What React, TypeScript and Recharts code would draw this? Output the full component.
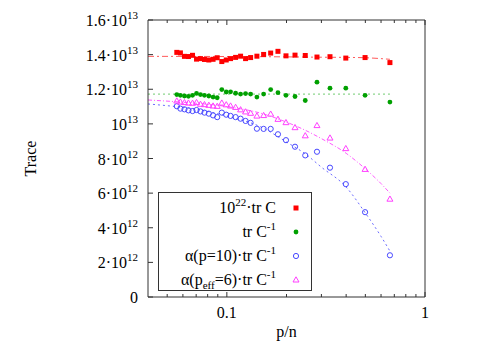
import React from "react";
import { ComposedChart, Scatter, Line, XAxis, YAxis, Legend } from "recharts";

// p/n of every measured point (same for all four series)
const pn = [
  0.0559, 0.0583, 0.0611, 0.064, 0.0671, 0.0703, 0.0736, 0.0771, 0.0811, 0.0852,
  0.0894, 0.0943, 0.0993, 0.1044, 0.1107, 0.1173, 0.1243, 0.1318, 0.1418, 0.1533,
  0.1664, 0.1811, 0.1988, 0.2208, 0.2487, 0.285, 0.3315, 0.3984, 0.4984, 0.6653,
];

// traces, in units of 10^12
const trC22 = [
  14.13, 14.1, 13.9, 13.89, 13.96, 13.74, 13.77, 13.72, 13.69, 13.73,
  13.82, 13.6, 13.69, 13.77, 13.84, 13.91, 13.77, 13.83, 13.91, 14.01,
  14.09, 14.19, 13.93, 13.97, 13.95, 13.86, 13.88, 13.8, 13.83, 13.54,
];
const trCinv = [
  11.69, 11.65, 11.61, 11.59, 11.65, 11.76, 11.69, 11.65, 11.61, 11.55,
  11.51, 11.98, 11.84, 11.85, 11.77, 11.72, 11.75, 11.72, 11.55, 11.72,
  11.98, 11.8, 11.65, 11.58, 11.35, 12.41, 12.06, 12.06, 11.65, 11.26,
];
const alphaP10 = [
  11.02, 10.88, 10.84, 10.78, 10.74, 10.8, 10.72, 10.65, 10.59, 10.49,
  10.39, 10.65, 10.53, 10.46, 10.39, 10.3, 10.17, 10.06, 9.72, 9.71,
  9.71, 9.4, 9.06, 8.68, 8.18, 8.39, 7.47, 6.52, 4.9, 2.41,
];
const alphaPeff6 = [
  11.32, 11.26, 11.23, 11.2, 11.19, 11.23, 11.13, 11.11, 11.07, 11.03,
  11.01, 11.2, 11.1, 11.03, 10.95, 10.81, 10.69, 10.61, 10.45, 10.48,
  10.56, 10.26, 10.07, 9.78, 9.31, 9.9, 9.18, 8.57, 7.37, 5.65,
];

// fitted curves
const fitRedX = [0.04, 0.1, 0.2, 0.3, 0.4, 0.5, 0.6653];
const fitRedY = [13.9, 13.89, 13.87, 13.85, 13.84, 13.82, 13.73];
const fitGreenX = [0.04, 0.6653];
const fitGreenY = [11.72, 11.72];
const fitBlueX = [0.04, 0.05, 0.07, 0.1, 0.15, 0.2, 0.25, 0.3, 0.4, 0.5, 0.6, 0.6653];
const fitBlueY = [11.15, 11.05, 10.85, 10.45, 9.8, 8.95, 8.25, 7.5, 6.35, 4.85, 3.5, 2.65];
const fitMagX = [0.04, 0.06, 0.1, 0.15, 0.2, 0.25, 0.3, 0.4, 0.5, 0.6, 0.6653];
const fitMagY = [11.38, 11.25, 11.0, 10.6, 10.1, 9.62, 9.15, 8.3, 7.4, 6.55, 6.0];

// axes
const xTicks = [
  0.05, 0.06, 0.07, 0.08, 0.09, 0.1, 0.2, 0.3, 0.4, 0.5, 0.6, 0.7, 0.8, 0.9, 1,
];
const xMajor = [0.1, 1];
const yTicks = [0, 2, 4, 6, 8, 10, 12, 14, 16];

const toPts = (xs: number[], ys: number[]) => xs.map((x, i) => ({ x, y: ys[i] }));

const AX = "#333";
const MAJ = 5;
const MIN = 3;
const FS = 16;

const RED = "#ff0000";
const GREEN = "#00a000";
const BLUE = "#4848ff";
const MAG = "#ff40ff";

// ---- tick renderers (gnuplot style: ticks point inward, mirrored) ----
function BottomTick({ x, y, payload }: any) {
  const v = payload.value;
  const major = xMajor.includes(v);
  return (
    <g>
      <line x1={x} x2={x} y1={y} y2={y - (major ? MAJ : MIN)} stroke={AX} />
      {major && (
        <text x={x} y={y + 21} textAnchor="middle" fontSize={FS} fill="#000">
          {String(v)}
        </text>
      )}
    </g>
  );
}

function TopTick({ x, y, payload }: any) {
  const major = xMajor.includes(payload.value);
  return <line x1={x} x2={x} y1={y} y2={y + (major ? MAJ : MIN)} stroke={AX} />;
}

function yLabel(v: number) {
  if (v === 0) return { main: "0", sup: "" };
  if (v === 10) return { main: "10", sup: "13" };
  if (v > 10) return { main: `${v / 10}·10`, sup: "13" };
  return { main: `${v}·10`, sup: "12" };
}

function LeftTick({ x, y, payload }: any) {
  const { main, sup } = yLabel(payload.value);
  return (
    <g>
      <line x1={x} x2={x + MAJ} y1={y} y2={y} stroke={AX} />
      <text x={x - 10} y={y + 6} textAnchor="end" fontSize={FS} fill="#000">
        {main}
        {sup && (
          <tspan dy={-7} fontSize={11}>
            {sup}
          </tspan>
        )}
      </text>
    </g>
  );
}

function RightTick({ x, y }: any) {
  return <line x1={x} x2={x - MAJ} y1={y} y2={y} stroke={AX} />;
}

// ---- markers ----
const Square = ({ cx, cy, color }: any) => (
  <rect x={cx - 2.5} y={cy - 2.5} width={5} height={5} fill={color} />
);
const Dot = ({ cx, cy, color }: any) => <circle cx={cx} cy={cy} r={2.4} fill={color} />;
const Ring = ({ cx, cy, color }: any) => (
  <circle cx={cx} cy={cy} r={2.6} fill="none" stroke={color} strokeWidth={1} />
);
const Tri = ({ cx, cy, color }: any) => (
  <polygon
    points={`${cx},${cy - 3.2} ${cx - 3},${cy + 2} ${cx + 3},${cy + 2}`}
    fill="none"
    stroke={color}
    strokeWidth={1}
  />
);

const supStyle: React.CSSProperties = { fontSize: 11, position: "relative", top: -7 };
const subStyle: React.CSSProperties = { fontSize: 11, position: "relative", top: 4 };

const legendRows = [
  {
    label: (
      <>
        10<span style={supStyle}>22</span>·tr C
      </>
    ),
    Mark: Square,
    color: RED,
  },
  {
    label: (
      <>
        tr C<span style={supStyle}>-1</span>
      </>
    ),
    Mark: Dot,
    color: GREEN,
  },
  {
    label: (
      <>
        α(p=10)·tr C<span style={supStyle}>-1</span>
      </>
    ),
    Mark: Ring,
    color: BLUE,
  },
  {
    label: (
      <>
        α(p<span style={subStyle}>eff</span>=6)·tr C<span style={supStyle}>-1</span>
      </>
    ),
    Mark: Tri,
    color: MAG,
  },
];

function LegendBox() {
  return (
    <div
      style={{
        position: "relative",
        width: 154,
        height: 99,
        boxSizing: "border-box",
        border: `1px solid ${AX}`,
        background: "#fff",
        fontSize: FS,
        color: "#000",
      }}
    >
      {legendRows.map((r, i) => (
        <div
          key={i}
          style={{
            position: "absolute",
            left: 0,
            right: 0,
            top: 2.5 + i * 24,
            height: 24,
            lineHeight: "24px",
          }}
        >
          <span style={{ position: "absolute", right: 35, whiteSpace: "nowrap" }}>
            {r.label}
          </span>
          <svg
            width={12}
            height={12}
            style={{ position: "absolute", left: 131, top: 6 }}
          >
            <r.Mark cx={6} cy={6} color={r.color} />
          </svg>
        </div>
      ))}
    </div>
  );
}

export default function App() {
  return (
    <div
      style={{
        position: "absolute",
        left: 0,
        top: 0,
        fontFamily: '"Liberation Serif", "Times New Roman", serif',
      }}
    >
      <ComposedChart
        width={500}
        height={350}
        margin={{ top: 0, right: 0, bottom: 0, left: 0 }}
      >
        <XAxis
          dataKey="x"
          type="number"
          scale="log"
          domain={[0.04, 1]}
          allowDataOverflow
          ticks={xTicks}
          interval={0}
          height={53}
          tickSize={0}
          tickMargin={0}
          tickLine={false}
          axisLine={{ stroke: AX }}
          tick={BottomTick}
          label={{ value: "p/n", position: "insideBottom", offset: 13, fontSize: FS, fill: "#000" }}
        />
        <XAxis
          xAxisId="top"
          orientation="top"
          dataKey="x"
          type="number"
          scale="log"
          domain={[0.04, 1]}
          allowDataOverflow
          ticks={xTicks}
          interval={0}
          height={20}
          tickSize={0}
          tickMargin={0}
          tickLine={false}
          axisLine={{ stroke: AX }}
          tick={TopTick}
        />
        <YAxis
          dataKey="y"
          type="number"
          domain={[0, 16]}
          ticks={yTicks}
          interval={0}
          width={148}
          tickSize={0}
          tickMargin={0}
          tickLine={false}
          axisLine={{ stroke: AX }}
          tick={LeftTick}
          label={{
            content: (p: any) => {
              const vb = p.viewBox;
              const cx = vb.x + 30;
              const cy = vb.y + vb.height / 2;
              return (
                <text
                  x={cx}
                  y={cy}
                  transform={`rotate(-90 ${cx} ${cy})`}
                  textAnchor="middle"
                  dominantBaseline="central"
                  fontSize={FS}
                  fill="#000"
                >
                  Trace
                </text>
              );
            },
          }}
        />
        <YAxis
          yAxisId="right"
          orientation="right"
          type="number"
          domain={[0, 16]}
          ticks={yTicks}
          interval={0}
          width={75}
          tickSize={0}
          tickMargin={0}
          tickLine={false}
          axisLine={{ stroke: AX }}
          tick={RightTick}
        />

        <Line
          data={toPts(fitRedX, fitRedY)}
          dataKey="y"
          type="monotone"
          stroke="#ff5a5a"
          strokeWidth={1}
          strokeDasharray="6 3 2 3"
          dot={false}
          isAnimationActive={false}
        />
        <Line
          data={toPts(fitGreenX, fitGreenY)}
          dataKey="y"
          type="linear"
          stroke="#70cc70"
          strokeWidth={1}
          strokeDasharray="2 3"
          dot={false}
          isAnimationActive={false}
        />
        <Line
          data={toPts(fitBlueX, fitBlueY)}
          dataKey="y"
          type="monotone"
          stroke="#6a6aff"
          strokeWidth={1}
          strokeDasharray="2 3"
          dot={false}
          isAnimationActive={false}
        />
        <Line
          data={toPts(fitMagX, fitMagY)}
          dataKey="y"
          type="monotone"
          stroke="#ff5aff"
          strokeWidth={1}
          strokeDasharray="4 2 1 2"
          dot={false}
          isAnimationActive={false}
        />

        <Scatter
          data={toPts(pn, trC22)}
          shape={(p: any) => <Square cx={p.cx} cy={p.cy} color={RED} />}
          isAnimationActive={false}
        />
        <Scatter
          data={toPts(pn, trCinv)}
          shape={(p: any) => <Dot cx={p.cx} cy={p.cy} color={GREEN} />}
          isAnimationActive={false}
        />
        <Scatter
          data={toPts(pn, alphaP10)}
          shape={(p: any) => <Ring cx={p.cx} cy={p.cy} color={BLUE} />}
          isAnimationActive={false}
        />
        <Scatter
          data={toPts(pn, alphaPeff6)}
          shape={(p: any) => <Tri cx={p.cx} cy={p.cy} color={MAG} />}
          isAnimationActive={false}
        />

        <Legend
          layout="vertical"
          align="center"
          verticalAlign="middle"
          content={LegendBox}
          wrapperStyle={{ left: 158, top: 192, width: 154, height: 99 }}
        />
      </ComposedChart>
    </div>
  );
}
